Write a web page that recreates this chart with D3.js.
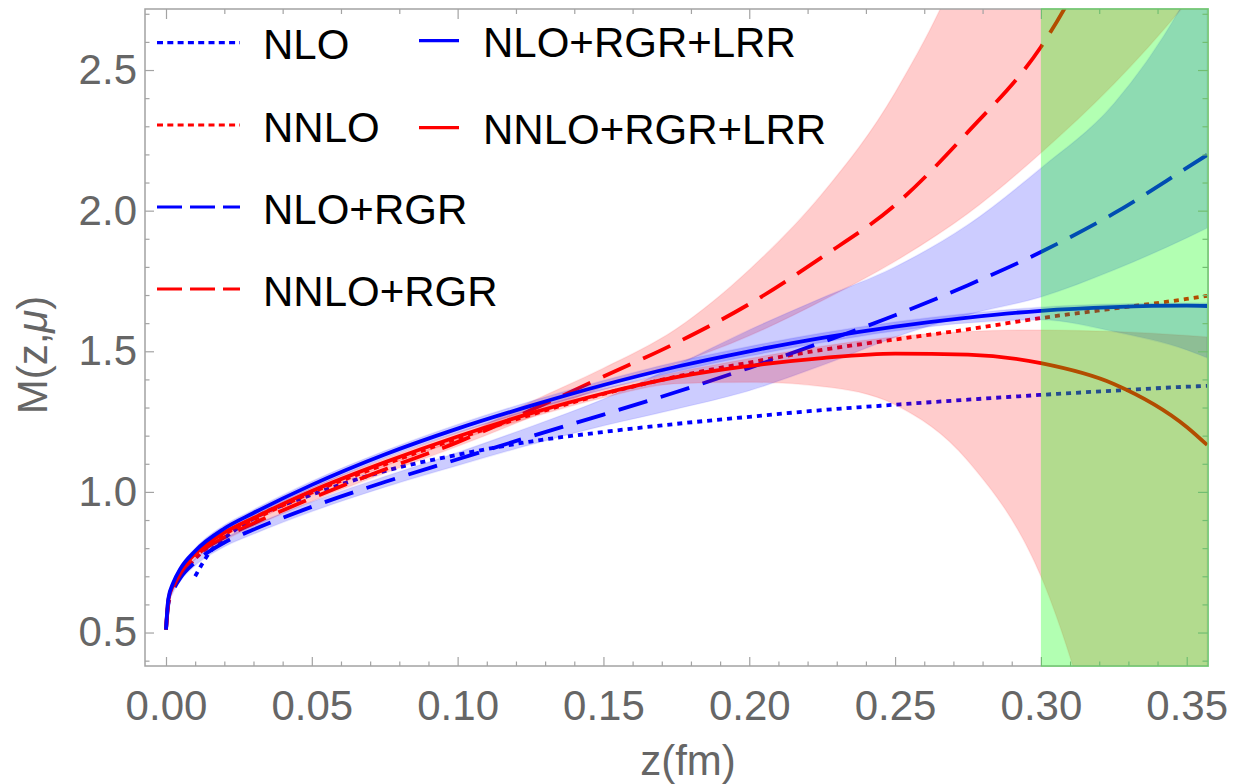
<!DOCTYPE html>
<html>
<head>
<meta charset="utf-8">
<script src="https://cdn.jsdelivr.net/npm/d3@7"></script>
<style>
  html, body { margin: 0; padding: 0; background: #fff; }
  svg { display: block; }
  text { font-family: "Liberation Sans", Arial, sans-serif; }
</style>
</head>
<body>
<svg id="chart" width="1234" height="784"></svg>
<script>
// ---------------- data ----------------
const zGrid = [0, 0.0008, 0.0025, 0.005, 0.01, 0.02, 0.03, 0.05, 0.075, 0.1, 0.125, 0.15, 0.175, 0.2, 0.225, 0.25, 0.275, 0.3, 0.325, 0.35, 0.357];

// central curves on zGrid
const nloRgrM     = [0.51, 0.60, 0.65, 0.695, 0.75, 0.82, 0.866, 0.947, 1.035, 1.116, 1.197, 1.275, 1.355, 1.441, 1.532, 1.628, 1.735, 1.853, 1.99, 2.152, 2.198];
const nnloRgrM    = [0.51, 0.605, 0.66, 0.71, 0.77, 0.838, 0.888, 0.978, 1.08, 1.177, 1.29, 1.41, 1.53, 1.668, 1.835, 2.02, 2.28, 2.582, 3.05, 3.6, 3.75];
const nloRgrLrrM  = [0.51, 0.62, 0.677, 0.728, 0.79, 0.87, 0.925, 1.025, 1.133, 1.225, 1.306, 1.38, 1.445, 1.50, 1.548, 1.588, 1.62, 1.644, 1.657, 1.662, 1.661];
const nnloRgrLrrM = [0.51, 0.615, 0.67, 0.72, 0.78, 0.855, 0.907, 1.003, 1.105, 1.197, 1.279, 1.35, 1.408, 1.448, 1.476, 1.492, 1.488, 1.458, 1.384, 1.231, 1.167];

// bands on zGrid
const nloRgrLo  = [0.51, 0.595, 0.643, 0.685, 0.738, 0.805, 0.85, 0.93, 1.017, 1.094, 1.168, 1.235, 1.295, 1.36, 1.45, 1.55, 1.63, 1.693, 1.789, 1.903, 1.938];
const nloRgrHi  = [0.51, 0.605, 0.657, 0.705, 0.762, 0.835, 0.882, 0.965, 1.055, 1.14, 1.232, 1.33, 1.45, 1.576, 1.69, 1.80, 1.95, 2.151, 2.38, 2.76, 2.9];
const nnloRgrLo = [0.51, 0.60, 0.654, 0.702, 0.76, 0.828, 0.877, 0.966, 1.066, 1.162, 1.265, 1.373, 1.455, 1.555, 1.68, 1.82, 1.99, 2.205, 2.45, 2.74, 2.83];
const nnloRgrHi = [0.51, 0.61, 0.666, 0.718, 0.78, 0.848, 0.899, 0.99, 1.094, 1.192, 1.32, 1.44, 1.58, 1.79, 2.06, 2.42, 2.95, 3.8, 4.5, 5.0, 5.2];
const nloLrrLo  = [0.51, 0.615, 0.67, 0.72, 0.78, 0.858, 0.913, 1.012, 1.12, 1.21, 1.29, 1.364, 1.428, 1.483, 1.531, 1.572, 1.601, 1.612, 1.57, 1.505, 1.477];
const nloLrrHi  = [0.51, 0.625, 0.684, 0.736, 0.80, 0.882, 0.937, 1.038, 1.146, 1.24, 1.322, 1.396, 1.462, 1.517, 1.565, 1.604, 1.634, 1.657, 1.668, 1.672, 1.672];
const nnloLrrLo = [0.51, 0.61, 0.663, 0.712, 0.77, 0.843, 0.895, 0.99, 1.092, 1.183, 1.264, 1.335, 1.385, 1.39, 1.375, 1.31, 1.11, 0.70, -0.1, -1.0, -1.3];
const nnloLrrHi = [0.51, 0.62, 0.677, 0.728, 0.79, 0.867, 0.919, 1.016, 1.118, 1.211, 1.294, 1.366, 1.425, 1.474, 1.518, 1.552, 1.57, 1.576, 1.57, 1.556, 1.551];

// fixed-order curves
const nloZ  = [0.01, 0.015, 0.02, 0.03, 0.05, 0.075, 0.1, 0.125, 0.15, 0.175, 0.2, 0.225, 0.25, 0.275, 0.3, 0.325, 0.35, 0.357];
const nloM  = [0.70, 0.785, 0.835, 0.905, 0.99, 1.074, 1.132, 1.179, 1.213, 1.242, 1.267, 1.291, 1.31, 1.328, 1.345, 1.36, 1.374, 1.377];
const nnloZ = [0.008, 0.01, 0.02, 0.03, 0.05, 0.075, 0.1, 0.125, 0.15, 0.175, 0.2, 0.225, 0.25, 0.275, 0.3, 0.325, 0.35, 0.357];
const nnloM = [0.74, 0.762, 0.848, 0.902, 0.998, 1.098, 1.19, 1.274, 1.348, 1.41, 1.46, 1.505, 1.542, 1.578, 1.618, 1.652, 1.686, 1.697];

const greenStart = 0.3;

const xTicks = [0, 0.05, 0.1, 0.15, 0.2, 0.25, 0.3, 0.35];
const xTickLabels = ["0.00", "0.05", "0.10", "0.15", "0.20", "0.25", "0.30", "0.35"];
const yTicks = [0.5, 1.0, 1.5, 2.0, 2.5];
const yTickLabels = ["0.5", "1.0", "1.5", "2.0", "2.5"];

const legendCol1 = ["NLO", "NNLO", "NLO+RGR", "NNLO+RGR"];
const legendCol2 = ["NLO+RGR+LRR", "NNLO+RGR+LRR"];

// ---------------- layout ----------------
const svg = d3.select("#chart");
const L = 145, R = 1208, T = 9, B = 666;
const x = d3.scaleLinear().domain([-0.0072, 0.3573]).range([L, R]);
const y = d3.scaleLinear().domain([0.381, 2.717]).range([B, T]);

const BLUE = "#0000ff", RED = "#ff0000";
const frameColor = "#a3a3a3", labelColor = "#666666";
const dotted = "5,5", dashed = "30,14";
const FS = "42px";

svg.append("defs").append("clipPath").attr("id", "clip")
  .append("rect").attr("x", L).attr("y", T).attr("width", R - L).attr("height", B - T);

const plot = svg.append("g").attr("clip-path", "url(#clip)");

const lineGen = d3.line().x(d => x(d[0])).y(d => y(d[1])).curve(d3.curveMonotoneX);
const areaGen = d3.area().x(d => x(d[0])).y0(d => y(d[1])).y1(d => y(d[2])).curve(d3.curveMonotoneX);

function drawLine(zs, ms, color, dash) {
  plot.append("path")
    .attr("d", lineGen(zs.map((z, i) => [z, ms[i]])))
    .attr("fill", "none").attr("stroke", color).attr("stroke-width", 3.8)
    .attr("stroke-dasharray", dash || null);
}
function drawBand(lo, hi, color) {
  plot.append("path")
    .attr("d", areaGen(zGrid.map((z, i) => [z, lo[i], hi[i]])))
    .attr("fill", color).attr("fill-opacity", 0.2)
    .attr("stroke", color).attr("stroke-opacity", 0.08).attr("stroke-width", 1.5);
}

// lines that sit under the bands
drawLine(nloZ, nloM, BLUE, dotted);
drawLine(nnloZ, nnloM, RED, dotted);
drawLine(zGrid, nloRgrM, BLUE, dashed);
drawLine(zGrid, nnloRgrM, RED, dashed);
// bands
drawBand(nnloRgrLo, nnloRgrHi, RED);
drawBand(nloRgrLo, nloRgrHi, BLUE);
drawBand(nnloLrrLo, nnloLrrHi, RED);
drawBand(nloLrrLo, nloLrrHi, BLUE);
// solid lines on top
drawLine(zGrid, nnloRgrLrrM, RED);
drawLine(zGrid, nloRgrLrrM, BLUE);

// ---------------- frame & ticks ----------------
const minorX = d3.range(0, 0.3575, 0.01).map(v => +v.toFixed(3));
const topX = d3.range(0, 0.3575, 0.02).map(v => +v.toFixed(3));
const minorY = d3.range(0.4, 2.75, 0.1).map(v => +v.toFixed(2)).filter(v => v >= 0.381 && v <= 2.717);
const isMajor = (v, step) => Math.abs(v / step - Math.round(v / step)) < 1e-6;

function styleAxis(g) {
  g.select(".domain").remove();
  g.selectAll(".tick line").attr("stroke", frameColor).attr("stroke-width", 1.2);
  g.selectAll(".tick text").attr("fill", labelColor).style("font-size", FS)
    .style("font-family", '"Liberation Sans", Arial, sans-serif');
}

svg.append("g").attr("transform", `translate(0,${B})`)
  .call(d3.axisBottom(x).tickValues(xTicks).tickSize(-9).tickPadding(24)
    .tickFormat((d, i) => xTickLabels[i]))
  .call(styleAxis);
svg.append("g").attr("transform", `translate(0,${B})`)
  .call(d3.axisBottom(x).tickValues(minorX.filter(v => !isMajor(v, 0.05))).tickSize(-4.5).tickFormat(""))
  .call(styleAxis);
svg.append("g").attr("transform", `translate(${L},0)`)
  .call(d3.axisLeft(y).tickValues(yTicks).tickSize(-9).tickPadding(8)
    .tickFormat((d, i) => yTickLabels[i]))
  .call(styleAxis);
svg.append("g").attr("transform", `translate(${L},0)`)
  .call(d3.axisLeft(y).tickValues(minorY.filter(v => !isMajor(v, 0.5))).tickSize(-4.5).tickFormat(""))
  .call(styleAxis);
svg.append("g").attr("transform", `translate(0,${T})`)
  .call(d3.axisTop(x).tickValues(topX).tickSize(0).tickFormat(""))
  .call(g => {
    g.select(".domain").remove();
    g.selectAll(".tick line").attr("y2", d => isMajor(d, 0.1) ? 10 : 5)
      .attr("stroke", frameColor).attr("stroke-width", 1.2);
  });
svg.append("g").attr("transform", `translate(${R},0)`)
  .call(d3.axisRight(y).tickValues(minorY).tickSize(0).tickFormat(""))
  .call(g => {
    g.select(".domain").remove();
    g.selectAll(".tick line").attr("x2", d => isMajor(d, 0.5) ? -10 : -5.5)
      .attr("stroke", frameColor).attr("stroke-width", 1.2);
  });

svg.append("rect").attr("x", L).attr("y", T).attr("width", R - L).attr("height", B - T)
  .attr("fill", "none").attr("stroke", frameColor).attr("stroke-width", 1.5);

// green region on top
svg.append("rect")
  .attr("x", x(greenStart)).attr("y", T - 1)
  .attr("width", R + 1 - x(greenStart)).attr("height", B - T + 2)
  .attr("fill", "#00ff00").attr("fill-opacity", 0.3);

// axis titles
svg.append("text").attr("x", 688).attr("y", 775).attr("text-anchor", "middle")
  .attr("fill", labelColor).style("font-size", FS).text("z(fm)");
const yt = svg.append("text").attr("transform", "translate(47,355) rotate(-90)").attr("text-anchor", "middle")
  .attr("fill", labelColor).style("font-size", FS);
yt.append("tspan").text("M(z,");
yt.append("tspan").style("font-style", "italic").text("\u03bc");
yt.append("tspan").text(")");

// ---------------- legend ----------------
const leg = svg.append("g");
const col1Styles = [[BLUE, "6,4.3"], [RED, "6,4.3"], [BLUE, "25,8"], [RED, "25,8"]];
const col1Y = [42.7, 125, 207, 289];
legendCol1.forEach((t, i) => {
  leg.append("line").attr("x1", 157).attr("x2", 240).attr("y1", col1Y[i]).attr("y2", col1Y[i])
    .attr("stroke", col1Styles[i][0]).attr("stroke-width", 3.2).attr("stroke-dasharray", col1Styles[i][1]);
  leg.append("text").attr("x", 263).attr("y", col1Y[i] + 16.5).attr("fill", "#000")
    .style("font-size", FS).text(t);
});
const col2Colors = [BLUE, RED];
const col2Y = [40.7, 127.7];
legendCol2.forEach((t, i) => {
  leg.append("line").attr("x1", 419).attr("x2", 459).attr("y1", col2Y[i]).attr("y2", col2Y[i])
    .attr("stroke", col2Colors[i]).attr("stroke-width", 3.2);
  leg.append("text").attr("x", 483).attr("y", col2Y[i] + 16).attr("fill", "#000")
    .style("font-size", FS).text(t);
});
</script>
</body>
</html>
